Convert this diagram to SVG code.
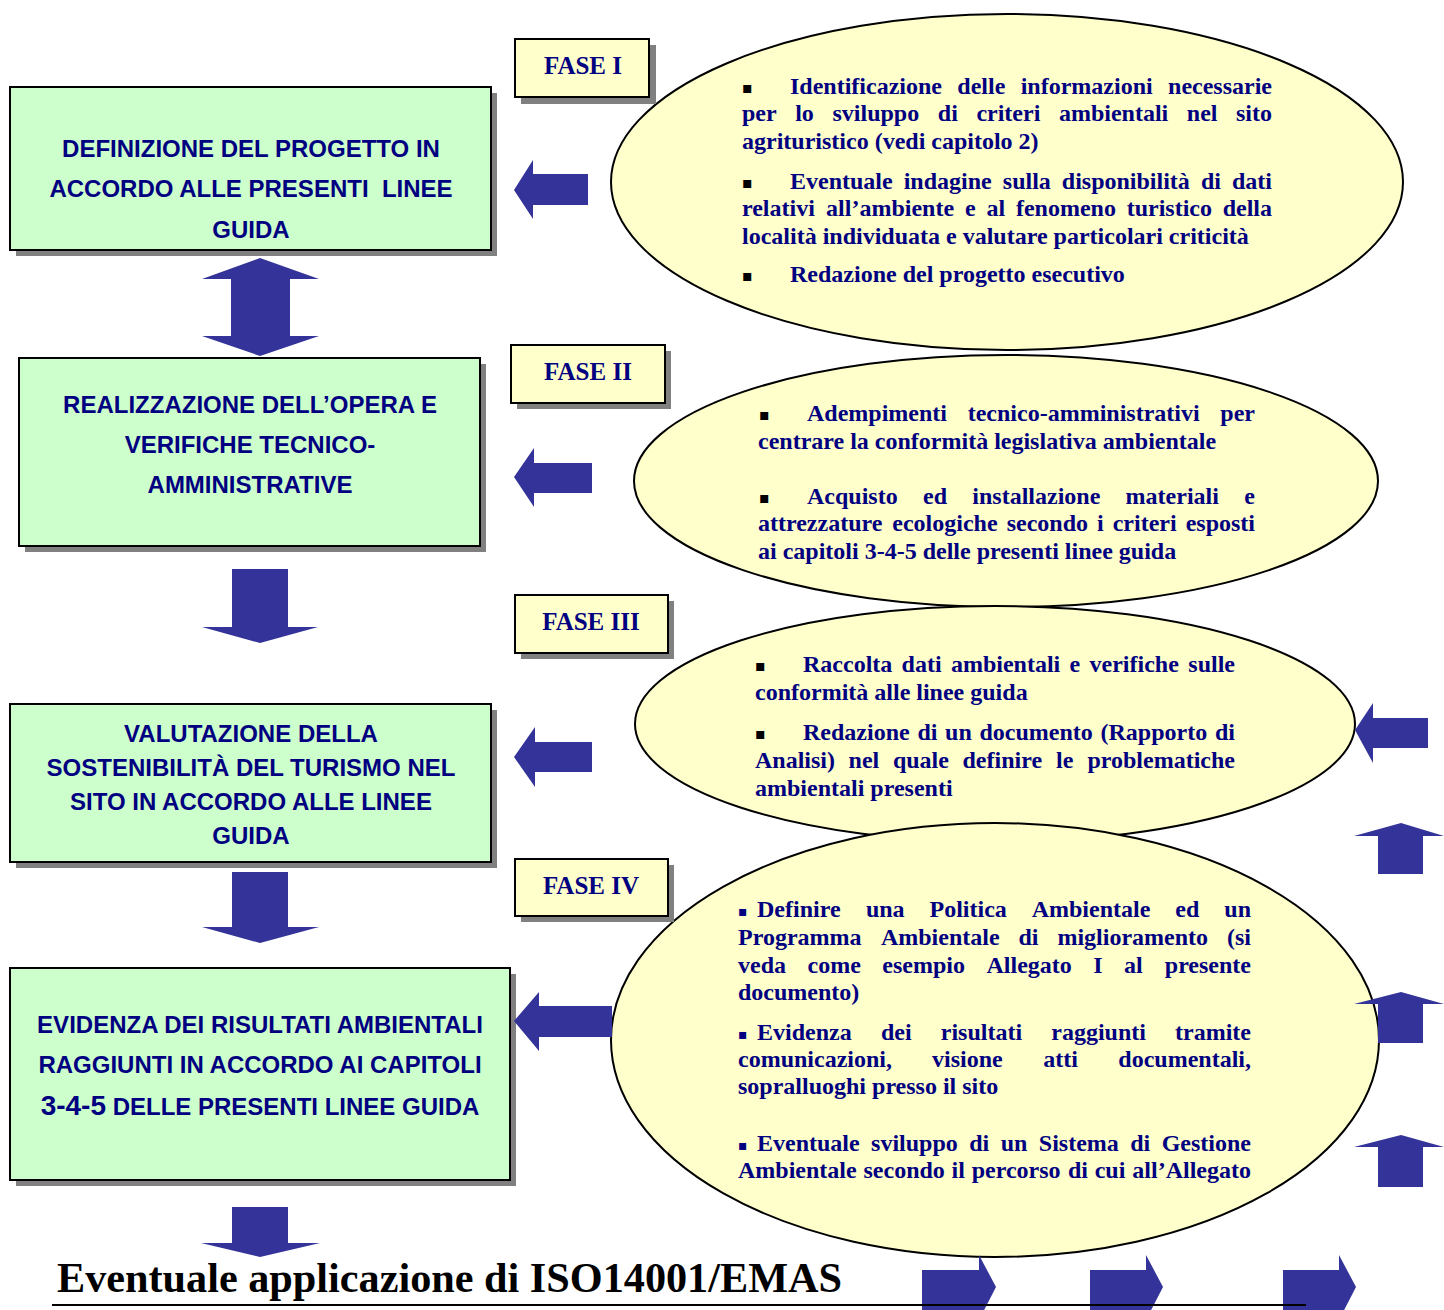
<svg xmlns="http://www.w3.org/2000/svg" width="1444" height="1310" viewBox="0 0 1444 1310">
<style>
.sh{fill:#808080}
.box{fill:#CCFFCC;stroke:#000;stroke-width:2}
.fase{fill:#FFFFCC;stroke:#000;stroke-width:2}
.ell{fill:#FFFFCC;stroke:#000;stroke-width:2}
.bt{font-family:"Liberation Sans",Arial,sans-serif;font-weight:bold;font-size:24px;fill:#000080;text-anchor:middle}
.ft{font-family:"Liberation Serif","Times New Roman",serif;font-weight:bold;font-size:25px;fill:#000080;text-anchor:middle}
.et{font-family:"Liberation Serif","Times New Roman",serif;font-weight:bold;font-size:24px;fill:#000080}
.e{text-anchor:end}
.bu{font-family:"DejaVu Sans",sans-serif;font-size:16px;fill:#000}
.bu4{font-family:"DejaVu Sans",sans-serif;font-size:14px;fill:#000080}
.arr{fill:#333399}
.title{font-family:"Liberation Serif","Times New Roman",serif;font-weight:bold;font-size:42px;fill:#000}
</style>

<g id="ellipse1">
<ellipse class="ell" cx="1007" cy="182" rx="396" ry="168"/>
<text class="bu" x="742" y="93">▪</text>
<text class="et" y="94"><tspan x="790">Identificazione</tspan><tspan x="957.3">delle</tspan><tspan x="1020.7">informazioni</tspan><tspan x="1272" class="e">necessarie</tspan></text>
<text class="et" y="121"><tspan x="742">per</tspan><tspan x="795.2">lo</tspan><tspan x="832.5">sviluppo</tspan><tspan x="937.8">di</tspan><tspan x="976.4">criteri</tspan><tspan x="1058.9">ambientali</tspan><tspan x="1186.8">nel</tspan><tspan x="1272" class="e">sito</tspan></text>
<text class="et" x="742" y="149">agrituristico (vedi capitolo 2)</text>
<text class="bu" x="742" y="188">▪</text>
<text class="et" y="189"><tspan x="790">Eventuale</tspan><tspan x="903.7">indagine</tspan><tspan x="1002.8">sulla</tspan><tspan x="1061.8">disponibilità</tspan><tspan x="1201">di</tspan><tspan x="1272" class="e">dati</tspan></text>
<text class="et" y="216"><tspan x="742">relativi</tspan><tspan x="826.1">all’ambiente</tspan><tspan x="964.9">e</tspan><tspan x="986.4">al</tspan><tspan x="1015.9">fenomeno</tspan><tspan x="1126.7">turistico</tspan><tspan x="1272" class="e">della</tspan></text>
<text class="et" x="742" y="244">località individuata e valutare particolari criticità</text>
<text class="bu" x="742" y="281">▪</text>
<text class="et" x="790" y="282">Redazione del progetto esecutivo</text>
</g>

<g id="ellipse2">
<ellipse class="ell" cx="1006" cy="481" rx="372" ry="126"/>
<text class="bu" x="759" y="420">▪</text>
<text class="et" y="421"><tspan x="807">Adempimenti</tspan><tspan x="967.7">tecnico-amministrativi</tspan><tspan x="1255" class="e">per</tspan></text>
<text class="et" x="758" y="449">centrare la conformità legislativa ambientale</text>
<text class="bu" x="759" y="503">▪</text>
<text class="et" y="504"><tspan x="807">Acquisto</tspan><tspan x="923">ed</tspan><tspan x="972.3">installazione</tspan><tspan x="1125.6">materiali</tspan><tspan x="1255" class="e">e</tspan></text>
<text class="et" y="531"><tspan x="758">attrezzature</tspan><tspan x="892.3">ecologiche</tspan><tspan x="1006.7">secondo</tspan><tspan x="1097">i</tspan><tspan x="1112.7">criteri</tspan><tspan x="1255" class="e">esposti</tspan></text>
<text class="et" x="758" y="559">ai capitoli 3-4-5 delle presenti linee guida</text>
</g>

<g id="ellipse3">
<ellipse class="ell" cx="995" cy="724" rx="360" ry="118"/>
<text class="bu" x="755" y="671">▪</text>
<text class="et" y="672"><tspan x="803">Raccolta</tspan><tspan x="901.6">dati</tspan><tspan x="950.9">ambientali</tspan><tspan x="1069.5">e</tspan><tspan x="1089.5">verifiche</tspan><tspan x="1235" class="e">sulle</tspan></text>
<text class="et" x="755" y="700">conformità alle linee guida</text>
<text class="bu" x="755" y="739">▪</text>
<text class="et" y="740"><tspan x="803">Redazione</tspan><tspan x="917.4">di</tspan><tspan x="945.1">un</tspan><tspan x="979.5">documento</tspan><tspan x="1100.5">(Rapporto</tspan><tspan x="1235" class="e">di</tspan></text>
<text class="et" y="768"><tspan x="755">Analisi)</tspan><tspan x="848.6">nel</tspan><tspan x="892.9">quale</tspan><tspan x="962.5">definire</tspan><tspan x="1056.1">le</tspan><tspan x="1235" class="e">problematiche</tspan></text>
<text class="et" x="755" y="796">ambientali presenti</text>
</g>

<g id="ellipse4">
<ellipse class="ell" cx="995" cy="1040" rx="384" ry="217"/>
<text class="bu4" x="738" y="916">▪</text>
<text class="et" y="917"><tspan x="757">Definire</tspan><tspan x="865.9">una</tspan><tspan x="929.5">Politica</tspan><tspan x="1031.7">Ambientale</tspan><tspan x="1175.3">ed</tspan><tspan x="1251" class="e">un</tspan></text>
<text class="et" y="945"><tspan x="738">Programma</tspan><tspan x="880.9">Ambientale</tspan><tspan x="1018.5">di</tspan><tspan x="1057.4">miglioramento</tspan><tspan x="1251" class="e">(si</tspan></text>
<text class="et" y="973"><tspan x="738">veda</tspan><tspan x="807.5">come</tspan><tspan x="882.3">esempio</tspan><tspan x="986.5">Allegato</tspan><tspan x="1093.3">I</tspan><tspan x="1124.1">al</tspan><tspan x="1251" class="e">presente</tspan></text>
<text class="et" x="738" y="1000">documento)</text>
<text class="bu4" x="738" y="1039">▪</text>
<text class="et" y="1040"><tspan x="757">Evidenza</tspan><tspan x="880.9">dei</tspan><tspan x="940.8">risultati</tspan><tspan x="1051.3">raggiunti</tspan><tspan x="1251" class="e">tramite</tspan></text>
<text class="et" y="1067"><tspan x="738">comunicazioni,</tspan><tspan x="932">visione</tspan><tspan x="1043.2">atti</tspan><tspan x="1251" class="e">documentali,</tspan></text>
<text class="et" x="738" y="1094">sopralluoghi presso il sito</text>
<text class="bu4" x="738" y="1150">▪</text>
<text class="et" y="1151"><tspan x="757">Eventuale</tspan><tspan x="871.1">sviluppo</tspan><tspan x="969.2">di</tspan><tspan x="1000.7">un</tspan><tspan x="1038.8">Sistema</tspan><tspan x="1130.2">di</tspan><tspan x="1251" class="e">Gestione</tspan></text>
<text class="et" y="1178"><tspan x="738">Ambientale</tspan><tspan x="863.5">secondo</tspan><tspan x="951.6">il</tspan><tspan x="971.7">percorso</tspan><tspan x="1067.9">di</tspan><tspan x="1094.7">cui</tspan><tspan x="1251" class="e">all’Allegato</tspan></text>
</g>

<g id="box1">
<rect class="sh" x="16" y="93" width="481" height="163"/>
<rect class="box" x="10" y="87" width="481" height="163"/>
<text class="bt" x="251" y="157">DEFINIZIONE DEL PROGETTO IN</text>
<text class="bt" x="251" y="197" xml:space="preserve">ACCORDO ALLE PRESENTI  LINEE</text>
<text class="bt" x="251" y="238">GUIDA</text>
</g>

<g id="box2">
<rect class="sh" x="25" y="364" width="461" height="188"/>
<rect class="box" x="19" y="358" width="461" height="188"/>
<text class="bt" x="250" y="413">REALIZZAZIONE DELL’OPERA E</text>
<text class="bt" x="250" y="453">VERIFICHE TECNICO-</text>
<text class="bt" x="250" y="493">AMMINISTRATIVE</text>
</g>

<g id="box3">
<rect class="sh" x="16" y="710" width="481" height="158"/>
<rect class="box" x="10" y="704" width="481" height="158"/>
<text class="bt" x="251" y="742">VALUTAZIONE DELLA</text>
<text class="bt" x="251" y="776">SOSTENIBILITÀ DEL TURISMO NEL</text>
<text class="bt" x="251" y="810">SITO IN ACCORDO ALLE LINEE</text>
<text class="bt" x="251" y="844">GUIDA</text>
</g>

<g id="box4">
<rect class="sh" x="16" y="974" width="500" height="212"/>
<rect class="box" x="10" y="968" width="500" height="212"/>
<text class="bt" x="260" y="1033">EVIDENZA DEI RISULTATI AMBIENTALI</text>
<text class="bt" x="260" y="1073">RAGGIUNTI IN ACCORDO AI CAPITOLI</text>
<text class="bt" x="260" y="1115"><tspan font-size="28">3-4-5</tspan> DELLE PRESENTI LINEE GUIDA</text>
</g>

<g id="fase1">
<rect class="sh" x="521" y="45" width="135" height="59"/>
<rect class="fase" x="515" y="39" width="134" height="58"/>
<text class="ft" x="583" y="74">FASE I</text>
</g>
<g id="fase2">
<rect class="sh" x="517" y="351" width="154" height="58"/>
<rect class="fase" x="511" y="345" width="154" height="58"/>
<text class="ft" x="588" y="380">FASE II</text>
</g>
<g id="fase3">
<rect class="sh" x="521" y="601" width="153" height="58"/>
<rect class="fase" x="515" y="595" width="153" height="58"/>
<text class="ft" x="591" y="630">FASE III</text>
</g>
<g id="fase4">
<rect class="sh" x="521" y="865" width="153" height="57"/>
<rect class="fase" x="515" y="859" width="153" height="57"/>
<text class="ft" x="591" y="894">FASE IV</text>
</g>

<g id="connectors">
<polygon class="arr" points="260,258 319,279 290,279 290,336 319,336 260,356 202,336 231,336 231,279 202,279"/>
<polygon class="arr" points="232,569 288,569 288,627 318,627 260,643 202,627 232,627"/>
<polygon class="arr" points="232,872 288,872 288,927 319,927 260,943 202,927 232,927"/>
<polygon class="arr" points="232,1207 288,1207 288,1243 320,1243 260,1257 201,1243 232,1243"/>
<polygon class="arr" points="514,190 533,160 533,174 588,174 588,205 533,205 533,219"/>
<polygon class="arr" points="514,477 534,448 534,463 592,463 592,493 534,493 534,507"/>
<polygon class="arr" points="514,757 535,727 535,742 592,742 592,772 535,772 535,787"/>
<polygon class="arr" points="514,1021 539,992 539,1006 612,1006 612,1037 539,1037 539,1051"/>
<polygon class="arr" points="1355,730 1373,703 1373,718 1428,718 1428,748 1373,748 1373,763"/>
<polygon class="arr" points="1401,823 1444,836 1423,836 1423,874 1378,874 1378,836 1354,836"/>
<polygon class="arr" points="1401,992 1444,1004 1423,1004 1423,1043 1378,1043 1378,1004 1354,1004"/>
<polygon class="arr" points="1401,1135 1444,1147 1423,1147 1423,1187 1378,1187 1378,1147 1354,1147"/>
<polygon class="arr" points="922,1270 979,1270 979,1255 996,1287 979,1320 979,1310 922,1310"/>
<polygon class="arr" points="1090,1270 1146,1270 1146,1255 1163,1287 1146,1320 1146,1310 1090,1310"/>
<polygon class="arr" points="1283,1270 1339,1270 1339,1255 1356,1287 1339,1320 1339,1310 1283,1310"/>
</g>

<g id="title">
<text class="title" x="57" y="1292" textLength="785" lengthAdjust="spacingAndGlyphs">Eventuale applicazione di ISO14001/EMAS</text>
<line x1="52" y1="1305" x2="1306" y2="1305" stroke="#000" stroke-width="2"/>
</g>
</svg>
